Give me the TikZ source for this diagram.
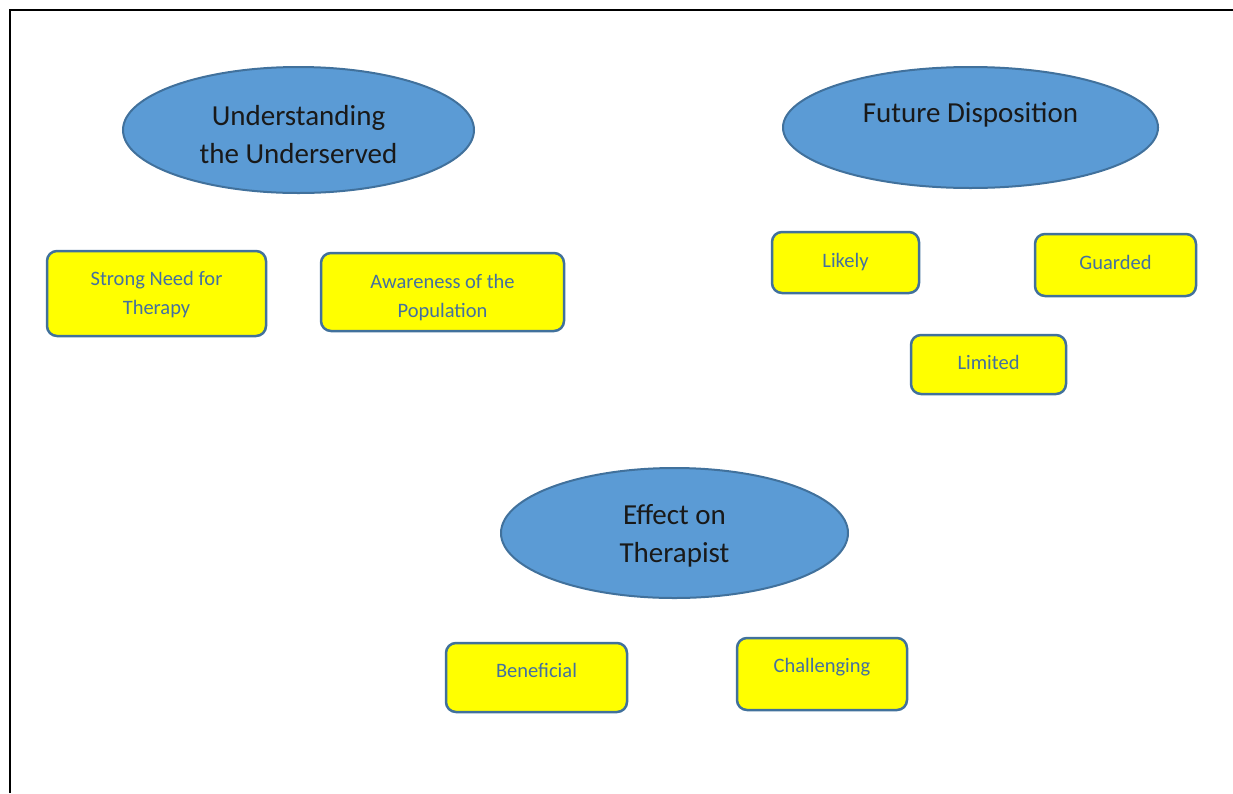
\documentclass[tikz,border=0pt]{standalone}
\usepackage{fontspec}
\setmainfont{Carlito}
\usetikzlibrary{shapes.geometric,positioning}

\definecolor{topicfill}{RGB}{91,155,213}
\definecolor{topicline}{RGB}{65,113,156}
\definecolor{itemfill}{RGB}{255,255,0}
\definecolor{itemink}{RGB}{68,112,160}

\begin{document}
\begin{tikzpicture}[
        x=1pt, y=-1pt,
        topic/.style={ellipse, draw=topicline, fill=topicfill, line width=2pt, inner sep=0pt},
        topictext/.style={align=center, inner sep=0pt, text=black!90, font=\fontsize{29}{38}\selectfont},
        item/.style={rectangle, draw=topicline, fill=itemfill, line width=2.5pt, rounded corners=10pt, inner sep=0pt},
        itemtext/.style={align=center, inner sep=0pt, text=itemink, font=\fontsize{20.5}{29}\selectfont}
      ]
        \useasboundingbox (0,0) rectangle (1233,793);

        % Frame
        \draw[line width=1.5pt] (10,793) -- (10,10) -- (1233,10);

        % Understanding the Underserved
        \node[topic, minimum width=351pt, minimum height=126pt] (under) at (298.5,130) {};
        \node[topictext, yshift=-5pt] (undertxt) at (under.center) {Understanding\\the Underserved};
        \node[item, minimum width=219pt, minimum height=85pt] (strong) at (156.5,293.5) {};
        \node[itemtext, below=21.5pt of strong.north] (strongtxt) {Strong Need for\\Therapy};
        \node[item, minimum width=243pt, minimum height=78pt] (aware) at (442.5,292) {};
        \node[itemtext, below=22.5pt of aware.north] (awaretxt) {Awareness of the\\Population};

        % Future Disposition
        \node[topic, minimum width=375pt, minimum height=121pt] (future) at (970.5,127.5) {};
        \node[topictext, yshift=12.7pt] (futuretxt) at (future.center) {Future Disposition};
        \node[item, minimum width=147pt, minimum height=61pt] (likely) at (845.5,262.5) {};
        \node[itemtext, below=22pt of likely.north] (likelytxt) {Likely};
        \node[item, minimum width=161pt, minimum height=62pt] (guarded) at (1115.5,265) {};
        \node[itemtext, below=22pt of guarded.north] (guardedtxt) {Guarded};
        \node[item, minimum width=155pt, minimum height=59pt] (limited) at (988.5,364.5) {};
        \node[itemtext, below=21.5pt of limited.north] (limitedtxt) {Limited};

        % Effect on Therapist
        \node[topic, minimum width=347pt, minimum height=130pt] (effect) at (674.5,533) {};
        \node[topictext, yshift=-3.3pt] (effecttxt) at (effect.center) {Effect on\\Therapist};
        \node[item, minimum width=181pt, minimum height=69pt] (benefit) at (536.5,677.5) {};
        \node[itemtext, below=21pt of benefit.north] (benefittxt) {Beneficial};
        \node[item, minimum width=170pt, minimum height=72pt] (challenge) at (822,674) {};
        \node[itemtext, below=21pt of challenge.north] (challengetxt) {Challenging};
      \end{tikzpicture}
\end{document}
